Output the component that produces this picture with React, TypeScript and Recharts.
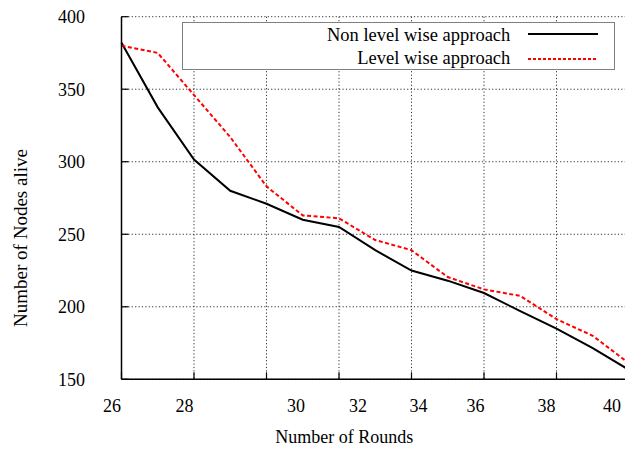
import { CartesianGrid, Legend, Line, LineChart, XAxis, YAxis } from 'recharts';

const rounds = [26, 27, 28, 29, 30, 31, 32, 33, 34, 35, 36, 37, 38, 39, 40];
const nonLevelWise = [382, 337.5, 301.5, 280, 271, 260, 255, 239, 225, 218, 209.5, 197, 185, 171.5, 156.5];
const levelWise = [380, 375, 346, 317, 283, 263, 261, 246, 239, 220.5, 212, 207.5, 191.5, 180, 161];
const xTicks = [26, 28, 30, 32, 34, 36, 38, 40];
const xTickLabels = ['26', '28', '30', '32', '34', '36', '38', '40'];
const yTicks = [150, 200, 250, 300, 350, 400];

const seriesNames = ['Non level wise approach', 'Level wise approach'];

const data = rounds.map((r, i) => ({
  round: r,
  nonLevel: nonLevelWise[i],
  level: levelWise[i],
}));

const FONT = '"Liberation Serif", "Times New Roman", serif';
// the original plot prints its x labels a little off the tick marks
const labelShift = [-9.5, -9.5, 29.5, 19, 7, -8.5, -10, -17];

const XTick = ({ x, y, payload, index }: any) => (
  <text
    x={x + (labelShift[index] || 0)}
    y={y}
    dy={40}
    textAnchor="middle"
    fontFamily={FONT}
    fontSize={18}
    fill="#000"
  >
    {xTickLabels[xTicks.indexOf(payload.value)]}
  </text>
);

const YTitle = ({ viewBox }: any) => {
  const cx = viewBox.x - 1.5;
  const cy = viewBox.y + viewBox.height / 2 + 40;
  return (
    <text
      x={cx}
      y={cy}
      transform={`rotate(-90, ${cx}, ${cy})`}
      textAnchor="middle"
      dominantBaseline="central"
      fontFamily={FONT}
      fontSize={19}
      fill="#000"
    >
      Number of Nodes alive
    </text>
  );
};

const XTitle = ({ viewBox }: any) => {
  const cx = viewBox.x + viewBox.width / 2 - 31;
  return (
    <text
      x={cx}
      y={437}
      textAnchor="middle"
      dominantBaseline="central"
      fontFamily={FONT}
      fontSize={18}
      fill="#000"
    >
      Number of Rounds
    </text>
  );
};

const KeyBox = () => (
  <div
    style={{
      width: 433,
      height: 48,
      border: '1.5px solid #808080',
      background: '#fff',
      boxSizing: 'border-box',
      fontFamily: FONT,
      fontSize: 18.5,
      color: '#000',
      position: 'relative',
    }}
  >
    {seriesNames.map((name, i) => (
      <div
        key={name}
        style={{
          position: 'absolute',
          top: 1 + i * 22.7,
          left: 0,
          width: 433,
          height: 22,
          display: 'flex',
          alignItems: 'center',
        }}
      >
        <span style={{ width: 330, textAlign: 'right', lineHeight: '22px' }}>{name}</span>
        <svg width={90} height={22} style={{ marginLeft: 16 }}>
          <line
            x1={2}
            x2={72}
            y1={i === 0 ? 10 : 12}
            y2={i === 0 ? 10 : 12}
            stroke={i === 0 ? '#000' : '#ff0000'}
            strokeWidth={2}
            strokeDasharray={i === 0 ? undefined : '3 2'}
          />
        </svg>
      </div>
    ))}
  </div>
);

const App = () => {
  return (
    <div style={{ margin: -8, width: 633, height: 453, background: '#fff' }}>
      <LineChart
        width={633}
        height={453}
        data={data}
        margin={{ top: 16.7, right: 4, left: 21.5, bottom: 0 }}
      >
        <CartesianGrid stroke="#333" strokeDasharray="1.2 2.2" strokeWidth={1} />
        <XAxis
          dataKey="round"
          type="number"
          domain={[26, 40]}
          ticks={xTicks}
          height={73.7}
          axisLine={{ stroke: '#000', strokeWidth: 1.5 }}
          tickLine={{ stroke: '#000', strokeWidth: 1.2 }}
          tickSize={-7}
          tickMargin={0}
          tick={<XTick />}
          interval={0}
          label={<XTitle />}
        />
        <XAxis
          xAxisId="top"
          orientation="top"
          dataKey="round"
          type="number"
          domain={[26, 40]}
          ticks={xTicks}
          height={0}
          axisLine={{ stroke: '#000', strokeWidth: 1.5 }}
          tickLine={{ stroke: '#000', strokeWidth: 1.2 }}
          tickSize={-7}
          tick={false}
        />
        <YAxis
          type="number"
          domain={[150, 400]}
          ticks={yTicks}
          width={100}
          axisLine={{ stroke: '#000', strokeWidth: 1.5 }}
          tickLine={{ stroke: '#000', strokeWidth: 1.2 }}
          tickSize={-7}
          tickMargin={43.5}
          tick={{ fontFamily: FONT, fontSize: 18, fill: '#000' }}
          interval={0}
          label={<YTitle />}
        />
        <YAxis
          yAxisId="right"
          orientation="right"
          type="number"
          domain={[150, 400]}
          ticks={yTicks}
          width={0}
          axisLine={{ stroke: '#000', strokeWidth: 1.5 }}
          tickLine={{ stroke: '#000', strokeWidth: 1.2 }}
          tickSize={-7}
          tick={false}
        />
        <Legend
          layout="horizontal"
          verticalAlign="middle"
          align="center"
          content={<KeyBox />}
          wrapperStyle={{ position: 'absolute', left: 181.7, top: 22.3, width: 433 }}
        />
        <Line
          dataKey="nonLevel"
          name={seriesNames[0]}
          stroke="#000"
          strokeWidth={2}
          dot={false}
          type="linear"
          isAnimationActive={false}
        />
        <Line
          dataKey="level"
          name={seriesNames[1]}
          stroke="#ff0000"
          strokeWidth={2}
          strokeDasharray="4 2.5"
          dot={false}
          type="linear"
          isAnimationActive={false}
        />
      </LineChart>
    </div>
  );
};

export default App;
